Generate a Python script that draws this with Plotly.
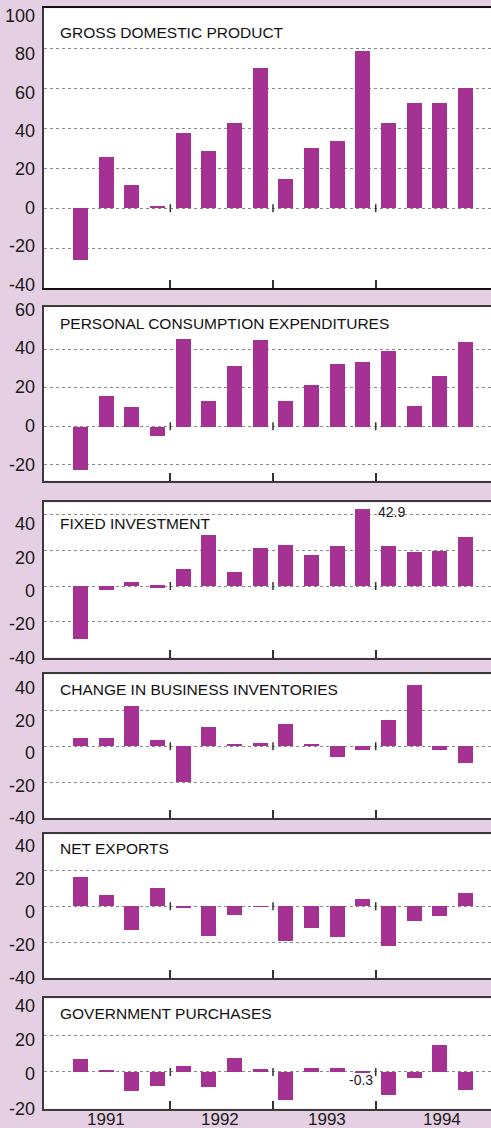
import plotly.graph_objects as go

# ---------------- data ----------------
quarters = ["1991Q1", "1991Q2", "1991Q3", "1991Q4",
            "1992Q1", "1992Q2", "1992Q3", "1992Q4",
            "1993Q1", "1993Q2", "1993Q3", "1993Q4",
            "1994Q1", "1994Q2", "1994Q3", "1994Q4"]
years = ["1991", "1992", "1993", "1994"]

titles = ["GROSS DOMESTIC PRODUCT",
          "PERSONAL CONSUMPTION EXPENDITURES",
          "FIXED INVESTMENT",
          "CHANGE IN BUSINESS INVENTORIES",
          "NET EXPORTS",
          "GOVERNMENT PURCHASES"]

gdp = [-25.8, 25.7, 11.7, 0.7, 37.7, 28.7, 42.7, 70.2,
       14.7, 30.2, 33.7, 78.7, 42.7, 52.7, 52.7, 60.2]
pce = [-22.7, 16.1, 9.9, -4.8, 45.3, 13.5, 31.5, 44.8,
       13.5, 21.7, 32.5, 33.5, 39.1, 10.9, 26.3, 43.8]
fixed_inv = [-29.7, -2.6, 2.3, -1.1, 9.6, 28.3, 7.4, 20.9,
             22.6, 17.0, 22.1, 42.9, 22.1, 18.7, 19.2, 27.2]
inventories = [4.4, 4.4, 22.2, 3.3, -20.0, 10.6, 1.1, 1.7,
               12.2, 0.6, -6.1, -2.2, 14.4, 33.9, -2.2, -9.4]
net_exports = [16.1, 6.1, -13.3, 10.0, -1.1, -16.6, -5.0, -0.4,
               -19.4, -12.2, -17.2, 3.9, -22.1, -8.3, -5.5, 7.2]
gov_purchases = [7.1, 0.5, -10.4, -7.6, 3.3, -8.2, 7.6, 1.6,
                 -15.3, 2.2, 2.2, -0.3, -12.5, -3.3, 14.7, -9.8]

series = [gdp, pce, fixed_inv, inventories, net_exports, gov_purchases]

# value scale of each panel (bars + gridlines)
y_ranges = [[-40, 100], [-28.3, 62.1], [-40, 46.7], [-40, 40], [-40, 40], [-20, 40]]
grid_values = [[-20, 0, 20, 40, 60, 80],
               [-20, 0, 20, 40],
               [-20, 0, 20, 40],
               [-20, 0, 20],
               [-20, 0, 20],
               [0, 20]]
# tick labels shown at the left of each panel
y_tick_lists = [[-40, -20, 0, 20, 40, 60, 80, 100],
                [-20, 0, 20, 40, 60],
                [-40, -20, 0, 20, 40],
                [-40, -20, 0, 20, 40],
                [-40, -20, 0, 20, 40],
                [-20, 0, 20, 40]]

# labelled values (index into series, quarter index)
labelled = [(2, 11, "beside"), (5, 11, "below")]

# ---------------- layout constants ----------------
W, H = 491, 1128
ML = 44
BG = "#E5CFE3"
BAR = "#A53293"
FONT = "Liberation Sans, Arial, sans-serif"
panel_px = [(8.3, 288.3), (306.7, 480.7), (502.3, 657.7),
            (674.3, 818.3), (834.3, 978.3), (998.3, 1108.7)]
# pixel rows of the top-most and bottom-most tick labels of each panel
label_px = [(15.3, 284.5), (309.2, 464.2), (524.2, 658.3),
            (688.0, 818.0), (845.8, 977.5), (1005.8, 1108.3)]
title_px_y = [32.7, 323.3, 523.7, 689.5, 848.7, 1013.0]
x_range = [-1.42, 15.99]
bar_width = 0.58
year_label_pos = [1.0, 5.45, 9.6, 14.1]

# year boundaries derived from categories
boundaries = [i - 0.5 for i in range(1, len(quarters))
              if quarters[i][:4] != quarters[i - 1][:4]]

fig = go.Figure()
layout = dict(
    width=W, height=H,
    margin=dict(l=ML, r=0, t=0, b=0, autoexpand=False),
    paper_bgcolor=BG, plot_bgcolor="white",
    showlegend=False, bargap=0,
    font=dict(family=FONT, color="#1a1a1a"),
)
annotations = []
shapes = []
xpos = list(range(len(quarters)))
npan = len(series)

for k, vals in enumerate(series):
    n = k + 1
    xa = "x" if n == 1 else f"x{n}"
    ya = "y" if n == 1 else f"y{n}"
    top, bot = panel_px[k]
    fig.add_trace(go.Bar(x=xpos, y=vals, width=bar_width,
                         marker=dict(color=BAR, line=dict(width=0)),
                         xaxis=xa, yaxis=ya, hoverinfo="skip"))
    layout[f"xaxis{'' if n == 1 else n}"] = dict(
        domain=[0, 1], anchor=ya, range=x_range, automargin=False,
        showgrid=False, zeroline=False,
        showline=True, linecolor="#3a3a3a" if k else "#111111", linewidth=2,
        mirror=True,
        tickmode="array", tickvals=boundaries, ticks="inside",
        ticklen=8, tickwidth=1.5, tickcolor="#333333",
        showticklabels=False, fixedrange=True,
    )
    layout[f"yaxis{'' if n == 1 else n}"] = dict(
        domain=[1 - bot / H, 1 - top / H], anchor=xa, automargin=False,
        range=y_ranges[k],
        tickmode="array", tickvals=grid_values[k],
        ticks="", showticklabels=False,
        showgrid=True, gridcolor="#8a8a8a", gridwidth=1, griddash="dot",
        zeroline=False,
        showline=True, linecolor="#3a3a3a", linewidth=2, mirror=False,
        fixedrange=True,
    )
    # label axis overlaying the panel (labels sit on their own scale)
    tl = y_tick_lists[k]
    tv, bv = max(tl), min(tl)
    tp, bp = label_px[k]
    scale = (bp - tp) / (tv - bv)
    r_top = max(tv + (tp - top) / scale, tv + 0.3)
    r_bot = min(bv - (bot - bp) / scale, bv - 0.3)
    m = npan + n
    layout[f"yaxis{m}"] = dict(
        overlaying=ya, anchor=xa, side="left", automargin=False,
        range=[r_bot, r_top],
        tickmode="array", tickvals=tl, ticktext=[str(v) for v in tl],
        ticks="", ticklabelstandoff=8, ticklabeloverflow="allow",
        tickfont=dict(size=18, color="#1a1a1a", family=FONT),
        showgrid=False, zeroline=False, showline=False, fixedrange=True,
    )
    fig.add_trace(go.Scatter(x=[x_range[0]], y=[tv], xaxis=xa, yaxis=f"y{m}",
                             mode="markers", marker=dict(opacity=0),
                             hoverinfo="skip"))
    annotations.append(dict(
        text=titles[k], xref="paper", yref="paper",
        x=(58 - ML) / (W - ML), y=1 - title_px_y[k] / H,
        xanchor="left", yanchor="middle", showarrow=False,
        font=dict(family=FONT, size=15.5, color="#111111")))
    # small year ticks crossing the zero line
    for b in boundaries:
        shapes.append(dict(type="line", xref=xa, yref=ya,
                           x0=b, x1=b, ysizemode="pixel", yanchor=0,
                           y0=-4, y1=4,
                           line=dict(color="#333333", width=1.5)))

# value labels
for si, qi, where in labelled:
    n = si + 1
    xa = "x" if n == 1 else f"x{n}"
    ya = "y" if n == 1 else f"y{n}"
    v = series[si][qi]
    if where == "beside":
        annotations.append(dict(text=f"{v:.1f}", xref=xa, yref=ya,
                                x=qi + 0.5, y=v, xanchor="left", yanchor="top",
                                yshift=7, showarrow=False,
                                font=dict(size=14, color="#1a1a1a")))
    else:
        annotations.append(dict(text=f"{v:.1f}", xref=xa, yref=ya,
                                x=qi, y=0, xanchor="center", yanchor="top",
                                xshift=-2, yshift=2, showarrow=False,
                                font=dict(size=14, color="#1a1a1a")))

# year labels under the last panel
last_x = f"x{npan}"
for yl, xp in zip(years, year_label_pos):
    annotations.append(dict(text=yl, xref=last_x, yref="paper",
                            x=xp, y=0, xanchor="center",
                            yanchor="bottom", yshift=-3, showarrow=False,
                            font=dict(size=17, color="#1a1a1a")))

layout["annotations"] = annotations
layout["shapes"] = shapes
fig.update_layout(**layout)
fig.write_html("out.html",
               config={"displayModeBar": False},
               post_script="document.body.style.margin='0';"
                           "document.body.style.overflow='hidden';")
